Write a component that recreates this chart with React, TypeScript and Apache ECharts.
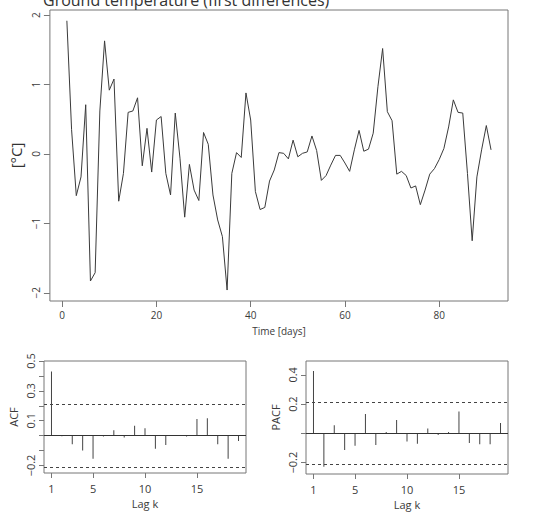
import React, { useEffect, useRef } from "react";
import * as echarts from "echarts";

const groundTempDiff = [
  1.92, 0.35, -0.6, -0.33, 0.71, -1.83, -1.71, 0.62, 1.63, 0.92, 1.08, -0.68, -0.28, 0.6, 0.62, 0.81,
  -0.17, 0.37, -0.26, 0.49, 0.54, -0.28, -0.59, 0.59, -0.06, -0.91, -0.15, -0.52, -0.67, 0.31, 0.14,
  -0.59, -0.95, -1.19, -1.96, -0.28, 0.02, -0.05, 0.88, 0.49, -0.54, -0.8, -0.77, -0.39, -0.23, 0.02,
  0.01, -0.07, 0.2, -0.04, 0.01, 0.03, 0.26, 0.05, -0.38, -0.31, -0.16, -0.02, -0.02, -0.13, -0.25,
  0.06, 0.34, 0.04, 0.07, 0.3, 0.97, 1.52, 0.61, 0.48, -0.29, -0.25, -0.31, -0.49, -0.46, -0.73,
  -0.52, -0.29, -0.21, -0.08, 0.08, 0.39, 0.78, 0.6, 0.59, -0.28, -1.25, -0.33, 0.06, 0.41, 0.06,
];

const acfValues = [
  0.43, -0.004, -0.058, -0.1, -0.155, -0.005, 0.036, -0.013, 0.067, 0.05, -0.088, -0.063, 0.005,
  -0.005, 0.112, 0.117, -0.058, -0.155, -0.036,
];

const pacfValues = [
  0.426, -0.228, 0.055, -0.114, -0.084, 0.132, -0.08, 0.009, 0.091, -0.055, -0.071, 0.034, -0.011,
  0.009, 0.15, -0.066, -0.075, -0.075, 0.071,
];

const confBand = 0.21;

const timeTicks = [0, 20, 40, 60, 80];
const tempTicks = [-2, -1, 0, 1, 2];
const lagTicks = [1, 5, 10, 15];
const acfTickValues = [-0.2, -0.1, 0, 0.1, 0.2, 0.3, 0.4, 0.5];
const acfLabelValues = [-0.2, 0.1, 0.3, 0.5];
const pacfTickValues = [-0.2, 0, 0.2, 0.4];
const pacfLabelValues = [-0.2, 0.2, 0.4];

const TITLE = "Ground temperature (first differences)";
const FONT = "Open Sans";
const AXIS_GRAY = "#777";
const TEXT = "#3a3a3a";

function fmt(v: number) {
  const s = Math.abs(v) < 1e-9 ? "0" : String(Math.round(v * 10) / 10);
  return s.replace("-", "\u2212");
}

export default function App() {
  const ref = useRef<HTMLDivElement>(null);

  useEffect(() => {
    if (!ref.current) return;
    const chart = echarts.init(ref.current, undefined, { renderer: "svg" });

    const tick = (len: number, values: number[]) => ({
      show: true,
      inside: false,
      length: len,
      customValues: values,
      lineStyle: { color: AXIS_GRAY, width: 1 },
    });
    const label = (values: number[], extra: any = {}) => ({
      show: true,
      customValues: values,
      fontFamily: FONT,
      fontSize: 10,
      color: TEXT,
      formatter: (v: number) => fmt(v),
      ...extra,
    });
    const noLine = { show: false, onZero: false };

    const lagLine = (vals: number[]) => vals.map((v, i) => [i + 1, v]);

    const markLines = {
      silent: true,
      symbol: "none",
      label: { show: false },
      animation: false,
      data: [
        { yAxis: 0, lineStyle: { color: "#333", width: 1, type: "solid" } },
        { yAxis: confBand, lineStyle: { color: "#444", width: 1, type: [3, 3] } },
        { yAxis: -confBand, lineStyle: { color: "#444", width: 1, type: [3, 3] } },
      ],
    };

    const lagAxis = (gridIndex: number) => ({
      gridIndex,
      type: "value",
      min: 0.28,
      max: 19.72,
      axisLine: noLine,
      splitLine: { show: false },
      axisTick: tick(5, lagTicks),
      axisLabel: label(lagTicks, { margin: 10, fontSize: 11 }),
      name: "Lag k",
      nameLocation: "middle",
      nameGap: 25,
      nameTextStyle: { fontFamily: FONT, fontSize: 11, color: TEXT },
    });

    const option: any = {
      animation: false,
      backgroundColor: "#fff",
      graphic: [
        {
          type: "text",
          x: 43,
          y: 8,
          silent: true,
          style: {
            text: TITLE,
            fontFamily: FONT,
            fontSize: 16,
            fill: "#333",
            textAlign: "left",
            textVerticalAlign: "bottom",
          },
        },
      ],
      grid: [
        { left: 44, top: 10, width: 464, height: 291, show: true, borderColor: AXIS_GRAY, borderWidth: 1, backgroundColor: "transparent" },
        { left: 44, top: 361, width: 202, height: 112, show: true, borderColor: AXIS_GRAY, borderWidth: 1, backgroundColor: "transparent" },
        { left: 306, top: 361, width: 202, height: 113, show: true, borderColor: AXIS_GRAY, borderWidth: 1, backgroundColor: "transparent" },
      ],
      xAxis: [
        {
          gridIndex: 0,
          type: "value",
          min: -2.6,
          max: 94.6,
          axisLine: noLine,
          splitLine: { show: false },
          axisTick: tick(6, timeTicks),
          axisLabel: label(timeTicks, { margin: 9 }),
          name: "Time [days]",
          nameLocation: "middle",
          nameGap: 25,
          nameTextStyle: { fontFamily: FONT, fontSize: 10, color: TEXT },
        },
        lagAxis(1),
        lagAxis(2),
      ],
      yAxis: [
        {
          gridIndex: 0,
          type: "value",
          min: -2.118,
          max: 2.075,
          axisLine: noLine,
          splitLine: { show: false },
          axisTick: tick(6, tempTicks),
          axisLabel: label(tempTicks, { margin: 9, rotate: 90 }),
          name: "[°C]",
          nameLocation: "middle",
          nameGap: 22,
          nameRotate: 90,
          nameTextStyle: { fontFamily: FONT, fontSize: 15, color: "#333" },
        },
        {
          gridIndex: 1,
          type: "value",
          min: -0.25,
          max: 0.5,
          axisLine: noLine,
          splitLine: { show: false },
          axisTick: tick(5, acfTickValues),
          axisLabel: label(acfLabelValues, { margin: 8, rotate: 90, fontSize: 11 }),
          name: "ACF",
          nameLocation: "middle",
          nameGap: 25,
          nameRotate: 90,
          nameTextStyle: { fontFamily: FONT, fontSize: 11, color: TEXT },
        },
        {
          gridIndex: 2,
          type: "value",
          min: -0.278,
          max: 0.495,
          axisLine: noLine,
          splitLine: { show: false },
          axisTick: tick(5, pacfTickValues),
          axisLabel: label(pacfLabelValues, { margin: 8, rotate: 90, fontSize: 11 }),
          name: "PACF",
          nameLocation: "middle",
          nameGap: 25,
          nameRotate: 90,
          nameTextStyle: { fontFamily: FONT, fontSize: 11, color: TEXT },
        },
      ],
      series: [
        {
          type: "line",
          xAxisIndex: 0,
          yAxisIndex: 0,
          data: groundTempDiff.map((v, i) => [i + 1, v]),
          showSymbol: false,
          symbol: "none",
          lineStyle: { color: "#3a3a3a", width: 1 },
          silent: true,
        },
        {
          type: "bar",
          xAxisIndex: 1,
          yAxisIndex: 1,
          data: lagLine(acfValues),
          barWidth: 1,
          itemStyle: { color: "#444" },
          silent: true,
          markLine: markLines,
        },
        {
          type: "bar",
          xAxisIndex: 2,
          yAxisIndex: 2,
          data: lagLine(pacfValues),
          barWidth: 1,
          itemStyle: { color: "#444" },
          silent: true,
          markLine: markLines,
        },
      ],
    };

    chart.setOption(option);
    return () => chart.dispose();
  }, []);

  return (
    <div
      ref={ref}
      style={{ position: "fixed", left: 0, top: 0, width: 534, height: 514, background: "#fff" }}
    />
  );
}
